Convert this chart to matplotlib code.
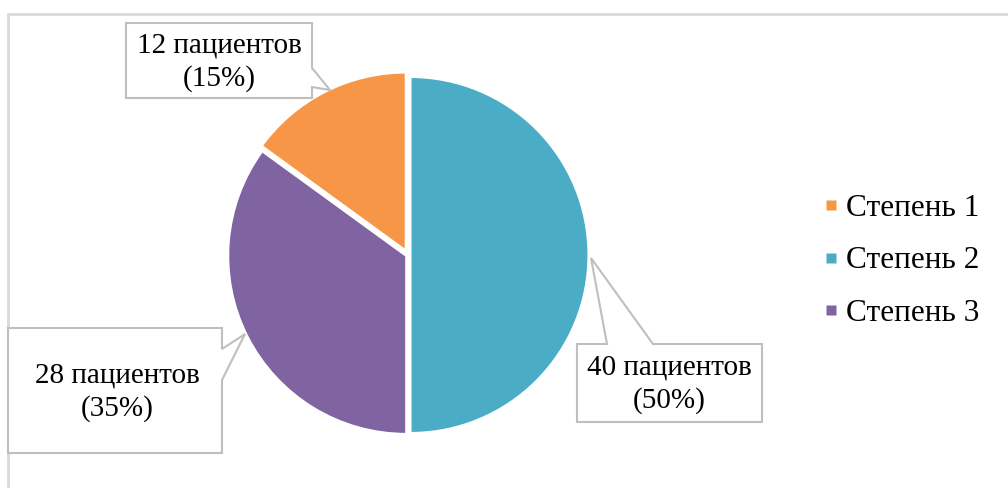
import matplotlib.pyplot as plt
from matplotlib.patches import Polygon, Rectangle
from matplotlib.lines import Line2D

labels = ["Степень 1", "Степень 2", "Степень 3"]
patients = [12, 40, 28]
colors = ["#F79646", "#4BACC6", "#8064A2"]

W, H = 1008, 488
plt.rcParams['font.family'] = ['Liberation Serif', 'DejaVu Serif']

fig = plt.figure(figsize=(W / 100, H / 100), dpi=100)
ax = fig.add_axes([0, 0, 1, 1])
ax.set_xlim(0, W)
ax.set_ylim(0, H)
ax.set_aspect('equal')
ax.axis('off')

# chart area border (only top and left edges visible)
ax.add_patch(Rectangle((8, -50), 1200, H - 14 + 50, fill=False,
                       edgecolor="#D9D9D9", lw=2))

total = sum(patients)
start = 90 + 360 * patients[0] / total
wedges, _ = ax.pie(patients, colors=colors, startangle=start, counterclock=False,
                   radius=178, center=(408, H - 255), explode=[5, 2.5, 2],
                   wedgeprops=dict(edgecolor="white", linewidth=1.5))
ax.set_xlim(0, W)
ax.set_ylim(0, H)


def callout(pts, text, cx, cy):
    poly = [(x, H - y) for x, y in pts]
    ax.add_patch(Polygon(poly, closed=True, facecolor="white",
                         edgecolor="#BFBFBF", lw=1.5, zorder=3))
    ax.text(cx, H - cy, text, ha='center', va='center', fontsize=21,
            linespacing=1.3, zorder=4)


pct = [round(100 * p / total) for p in patients]
texts = [f"{p} пациентов\n({q}%)" for p, q in zip(patients, pct)]

callout([(126, 23), (312, 23), (312, 68), (330, 90), (312, 87), (312, 98), (126, 98)],
        texts[0], 219, 62)
callout([(577, 344), (607, 344), (591, 258), (653, 344), (762, 344), (762, 422), (577, 422)],
        texts[1], 669, 384)
callout([(8, 328), (222, 328), (222, 349), (245, 334), (222, 380), (222, 453), (8, 453)],
        texts[2], 117, 392)

handles = [Line2D([], [], ls='none', marker='s', markersize=6.8,
                  markerfacecolor=c, markeredgecolor='none') for c in colors]
fig.legend(handles, labels, loc='center left', bbox_to_anchor=(798 / W, 1 - 261 / H),
           frameon=False, fontsize=22.5, handlelength=0.32,
           handletextpad=0.3, labelspacing=0.76)

fig.savefig("out.png", dpi=100)
